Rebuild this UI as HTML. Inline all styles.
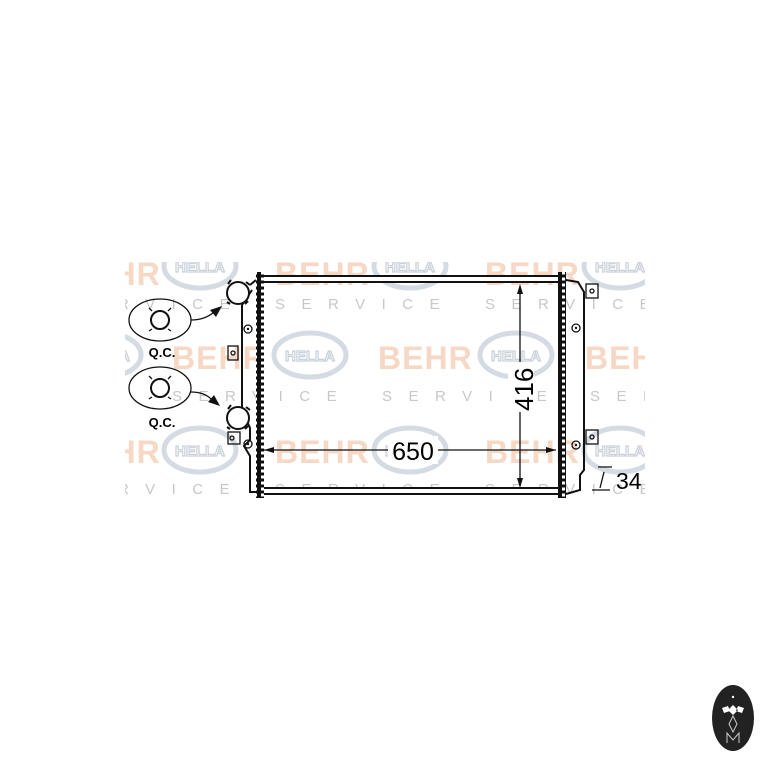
<!DOCTYPE html>
<html><head><meta charset="utf-8"><style>
html,body{margin:0;padding:0;background:#fff;width:768px;height:768px;overflow:hidden}
svg{display:block}
.behr{font-family:"Liberation Sans",sans-serif;font-weight:bold;font-size:32px;fill:#f6d8c4;letter-spacing:1px}
.hel{fill:none;stroke:#d4dbe3;stroke-width:5}
.helt{font-family:"Liberation Sans",sans-serif;font-weight:bold;font-size:15px;fill:#fff;stroke:#c9d1da;stroke-width:1.2}
.srv{font-family:"Liberation Sans",sans-serif;font-size:15px;fill:#c8c8c8;letter-spacing:16.5px}
.ln{fill:none;stroke:#111;stroke-width:2}
.ln1{fill:none;stroke:#111;stroke-width:1.3}
</style></head><body>
<svg width="768" height="768" viewBox="0 0 768 768">
<defs>
<clipPath id="wm"><rect x="125" y="262" width="520" height="240"/></clipPath>
<g id="hella"><ellipse cx="0" cy="0" rx="36" ry="22" class="hel"/><text x="0" y="6" text-anchor="middle" class="helt">HELLA</text></g>
<pattern id="serr" x="0" y="0" width="7" height="6" patternUnits="userSpaceOnUse"><rect width="7" height="6" fill="#111"/><rect x="2" y="1.5" width="3" height="3" fill="#fff"/></pattern>
</defs>
<g clip-path="url(#wm)">
<text x="275" y="285" class="behr">BEHR</text><text x="485" y="285" class="behr">BEHR</text><text x="66" y="285" class="behr">BEHR</text>
<text x="172" y="369" class="behr">BEHR</text><text x="378" y="369" class="behr">BEHR</text><text x="585" y="369" class="behr">BEHR</text>
<text x="275" y="463" class="behr">BEHR</text><text x="485" y="463" class="behr">BEHR</text><text x="66" y="463" class="behr">BEHR</text>
<use href="#hella" x="200" y="266"/><use href="#hella" x="410" y="266"/><use href="#hella" x="620" y="266"/>
<use href="#hella" x="310" y="355"/><use href="#hella" x="516" y="355"/><use href="#hella" x="105" y="355"/>
<use href="#hella" x="200" y="450"/><use href="#hella" x="410" y="450"/><use href="#hella" x="620" y="450"/>
<text x="65" y="309" class="srv">SERVICE</text><text x="275" y="309" class="srv">SERVICE</text><text x="485" y="309" class="srv">SERVICE</text>
<text x="-40" y="401" class="srv">SERVICE</text><text x="172" y="401" class="srv">SERVICE</text><text x="382" y="401" class="srv">SERVICE</text><text x="590" y="401" class="srv">SERVICE</text>
<text x="65" y="494" class="srv">SERVICE</text><text x="275" y="494" class="srv">SERVICE</text><text x="485" y="494" class="srv">SERVICE</text>
</g>
<!-- core -->
<rect x="262" y="276" width="301" height="6" fill="#fff" stroke="#111" stroke-width="2"/>
<rect x="262" y="488" width="301" height="6" fill="#fff" stroke="#111" stroke-width="2"/>
<rect x="256" y="272" width="8" height="226" fill="url(#serr)"/>
<rect x="558" y="272" width="8" height="226" fill="url(#serr)"/>
<!-- left tank -->
<path class="ln" d="M252 290 L242 305 L242 410 L250 428 L250 440 L244 446 L250 456 L250 492 L256 492"/>
<path class="ln" d="M256 280 L250 285"/>
<circle cx="248" cy="329" r="4" class="ln1"/><circle cx="248" cy="329" r="1.2" fill="#111"/>
<circle cx="248" cy="444" r="4" class="ln1"/><circle cx="248" cy="444" r="1.2" fill="#111"/>
<rect x="228" y="346" width="10" height="14" class="ln1" fill="#fff"/><circle cx="233" cy="353" r="2" class="ln1"/>
<rect x="228" y="432" width="12" height="12" class="ln1" fill="#fff"/><circle cx="232" cy="438" r="2" class="ln1"/>
<!-- ports -->
<g class="ln" fill="#fff"><circle cx="238" cy="293" r="11" fill="#fff"/><path d="M228 284 l3 -4 M246 282 l4 3 M248 301 l-3 3 M227 302 l3 2"/></g>
<g class="ln"><circle cx="238" cy="418" r="11" fill="#fff"/><path d="M228 409 l3 -4 M246 407 l4 3 M248 426 l-3 3 M227 427 l3 2"/></g>
<!-- right tank -->
<path class="ln" d="M566 280 L578 282 L584 292 L584 470 L580 475 L580 490 L566 494"/>
<circle cx="576" cy="328" r="4" class="ln1"/><circle cx="576" cy="328" r="1.2" fill="#111"/>
<circle cx="576" cy="445" r="4" class="ln1"/><circle cx="576" cy="445" r="1.2" fill="#111"/>
<rect x="586" y="284" width="12" height="14" class="ln1" fill="#fff"/><circle cx="592" cy="291" r="2" class="ln1"/>
<rect x="586" y="430" width="12" height="14" class="ln1" fill="#fff"/><circle cx="592" cy="437" r="2" class="ln1"/>
<!-- QC -->
<ellipse cx="160" cy="320" rx="31" ry="21" class="ln1"/>
<circle cx="160" cy="320" r="9" class="ln"/><path class="ln1" d="M152 311 l-3 -3 M168 311 l3 -3 M152 329 l-3 2 M168 329 l3 2"/>
<ellipse cx="160" cy="388" rx="31" ry="21" class="ln1"/>
<circle cx="160" cy="388" r="9" class="ln"/><path class="ln1" d="M152 379 l-3 -3 M168 379 l3 -3 M152 397 l-3 2 M168 397 l3 2"/>
<text x="162" y="357" text-anchor="middle" font-family="Liberation Sans,sans-serif" font-weight="bold" font-size="13">Q.C.</text>
<text x="162" y="427" text-anchor="middle" font-family="Liberation Sans,sans-serif" font-weight="bold" font-size="13">Q.C.</text>
<path class="ln1" d="M191 320 Q205 320 214 312"/><path d="M222 306 L210 310 L216 317 Z" fill="#111"/>
<path class="ln1" d="M191 392 Q205 392 212 400"/><path d="M220 406 L208 402 L214 395 Z" fill="#111"/>
<!-- dims -->
<line x1="520" y1="288" x2="520" y2="486" class="ln1"/>
<path d="M520 284 L517 294 L523 294 Z M520 488 L517 478 L523 478 Z" fill="#111"/>
<rect x="508" y="362" width="26" height="50" fill="#fff"/>
<text x="0" y="0" transform="translate(533 411) rotate(-90)" font-family="Liberation Sans,sans-serif" font-size="26">416</text>
<line x1="264" y1="450" x2="556" y2="450" class="ln1"/>
<path d="M264 450 L274 447 L274 453 Z M556 450 L546 447 L546 453 Z" fill="#111"/>
<rect x="388" y="436" width="50" height="28" fill="#fff"/>
<text x="413" y="460" text-anchor="middle" font-family="Liberation Sans,sans-serif" font-size="25">650</text>
<path class="ln1" d="M598 467 L612 467 M604 472 L600 488 M592 490 L610 490"/>
<text x="616" y="489" font-family="Liberation Sans,sans-serif" font-size="23">34</text>
<!-- logo -->
<ellipse cx="733" cy="718" rx="21" ry="33" fill="#222"/>
<path d="M733 705 l5 5 l-5 5 l-5 -5 Z M722 708 l6 -2 l2 5 l-6 2 Z M744 708 l-6 -2 l-2 5 l6 2 Z" fill="#fff"/>
<path d="M733 716 l4 8 l-4 8 l-4 -8 Z" fill="none" stroke="#ccc" stroke-width="1"/>
<path d="M727 743 L727 733 L733 740 L739 733 L739 743" fill="none" stroke="#ccc" stroke-width="1"/>
<circle cx="733" cy="697" r="1.2" fill="#fff"/>
</svg>
</body></html>
